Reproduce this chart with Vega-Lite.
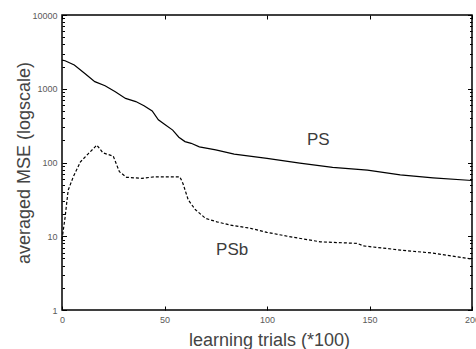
{
  "$schema": "https://vega.github.io/schema/vega-lite/v6.json",
  "width": 410,
  "height": 295,
  "autosize": {"type": "none"},
  "padding": {"left": 62, "top": 15, "right": 4, "bottom": 39},
  "background": "white",
  "config": {
    "view": {"stroke": "black", "strokeWidth": 1.5},
    "font": "Liberation Sans",
    "axis": {
      "domain": false,
      "grid": false,
      "labelFont": "Liberation Sans",
      "labelFontSize": 9,
      "labelColor": "#5a5a5a",
      "labelFlush": false,
      "labelOverlap": false,
      "labelBound": false,
      "tickColor": "black",
      "tickWidth": 1,
      "titleFont": "Liberation Sans",
      "titleFontSize": 18,
      "titleFontWeight": "normal",
      "titleColor": "#444444"
    }
  },
  "datasets": {
    "ps": [
      {"trial": 0, "mse": 2450}, {"trial": 1.5, "mse": 2400}, {"trial": 6, "mse": 2100},
      {"trial": 11, "mse": 1620}, {"trial": 16, "mse": 1250}, {"trial": 21, "mse": 1100},
      {"trial": 26, "mse": 910}, {"trial": 31, "mse": 740}, {"trial": 36, "mse": 670},
      {"trial": 40, "mse": 590}, {"trial": 44, "mse": 500}, {"trial": 47, "mse": 380},
      {"trial": 50, "mse": 330}, {"trial": 54, "mse": 275}, {"trial": 57, "mse": 220},
      {"trial": 60, "mse": 192}, {"trial": 63, "mse": 182}, {"trial": 67, "mse": 163},
      {"trial": 75, "mse": 148}, {"trial": 84, "mse": 130}, {"trial": 100, "mse": 114},
      {"trial": 116, "mse": 98}, {"trial": 132, "mse": 86}, {"trial": 149, "mse": 79},
      {"trial": 165, "mse": 68}, {"trial": 181, "mse": 62}, {"trial": 200, "mse": 57}
    ],
    "psb": [
      {"trial": 0, "mse": 9}, {"trial": 1.5, "mse": 18}, {"trial": 3, "mse": 42},
      {"trial": 5.5, "mse": 64}, {"trial": 9, "mse": 102}, {"trial": 13, "mse": 133},
      {"trial": 17, "mse": 172}, {"trial": 20, "mse": 135}, {"trial": 25, "mse": 122},
      {"trial": 28, "mse": 75}, {"trial": 31.5, "mse": 63}, {"trial": 39, "mse": 61},
      {"trial": 45, "mse": 64}, {"trial": 57.5, "mse": 64}, {"trial": 59, "mse": 52},
      {"trial": 61.6, "mse": 31}, {"trial": 65, "mse": 23}, {"trial": 70, "mse": 17.5},
      {"trial": 75.5, "mse": 15.7}, {"trial": 82, "mse": 14.2}, {"trial": 92, "mse": 12.8},
      {"trial": 100, "mse": 11.3}, {"trial": 110, "mse": 10}, {"trial": 126, "mse": 8.4},
      {"trial": 144, "mse": 8.0}, {"trial": 147, "mse": 7.4}, {"trial": 165, "mse": 6.5},
      {"trial": 181, "mse": 5.9}, {"trial": 200, "mse": 4.9}
    ],
    "labels": [
      {"trial": 125, "mse": 202, "label": "PS"},
      {"trial": 83, "mse": 6.5, "label": "PSb"}
    ]
  },
  "layer": [
    {
      "data": {"name": "ps"},
      "mark": {"type": "line", "color": "black", "strokeWidth": 1.2},
      "encoding": {
        "x": {
          "field": "trial", "type": "quantitative",
          "scale": {"domain": [0, 200], "nice": false, "zero": false},
          "axis": {
            "orient": "bottom",
            "values": [0, 50, 100, 150, 200],
            "title": "learning trials (*100)",
            "tickSize": -4,
            "labelPadding": 9,
            "titleX": 207,
            "titleY": 35,
            "titleBaseline": "alphabetic"
          }
        },
        "y": {
          "field": "mse", "type": "quantitative",
          "scale": {"type": "log", "domain": [1, 10000], "nice": false},
          "axis": {
            "orient": "left",
            "values": [1,2,3,4,5,6,7,8,9,10,20,30,40,50,60,70,80,90,100,200,300,400,500,600,700,800,900,1000,2000,3000,4000,5000,6000,7000,8000,9000,10000],
            "labelExpr": "indexof([1,10,100,1000,10000], datum.value) >= 0 ? datum.label : ''",
            "format": "d",
            "tickSize": {"condition": {"test": "indexof([1,10,100,1000,10000], datum.value) >= 0", "value": -4.5}, "value": -2.5},
            "labelPadding": {"condition": {"test": "indexof([1,10,100,1000,10000], datum.value) >= 0", "value": 9.5}, "value": 7.5},
            "title": "averaged MSE (logscale)",
            "titleX": -33,
            "titleY": 147.5,
            "titleAngle": -90,
            "titleAlign": "center",
            "titleBaseline": "alphabetic"
          }
        }
      }
    },
    {
      "data": {"name": "psb"},
      "mark": {"type": "line", "color": "black", "strokeWidth": 1.2, "strokeDash": [3, 2]},
      "encoding": {
        "x": {
          "field": "trial", "type": "quantitative",
          "scale": {"domain": [0, 200], "nice": false, "zero": false},
          "axis": {
            "orient": "top",
            "values": [0, 50, 100, 150, 200],
            "labels": false,
            "title": null,
            "tickSize": -4
          }
        },
        "y": {
          "field": "mse", "type": "quantitative",
          "scale": {"type": "log", "domain": [1, 10000], "nice": false},
          "axis": {
            "orient": "right",
            "values": [1,2,3,4,5,6,7,8,9,10,20,30,40,50,60,70,80,90,100,200,300,400,500,600,700,800,900,1000,2000,3000,4000,5000,6000,7000,8000,9000,10000],
            "labels": false,
            "title": null,
            "tickSize": {"condition": {"test": "indexof([1,10,100,1000,10000], datum.value) >= 0", "value": -4.5}, "value": -2.5}
          }
        }
      }
    },
    {
      "data": {"name": "labels"},
      "mark": {"type": "text", "font": "Liberation Sans", "fontSize": 17, "color": "#3c3c3c", "align": "center", "baseline": "middle"},
      "encoding": {
        "x": {"field": "trial", "type": "quantitative", "scale": {"domain": [0, 200], "nice": false, "zero": false}, "axis": null},
        "y": {"field": "mse", "type": "quantitative", "scale": {"type": "log", "domain": [1, 10000], "nice": false}, "axis": null},
        "text": {"field": "label"}
      }
    }
  ],
  "resolve": {"axis": {"x": "independent", "y": "independent"}}
}
